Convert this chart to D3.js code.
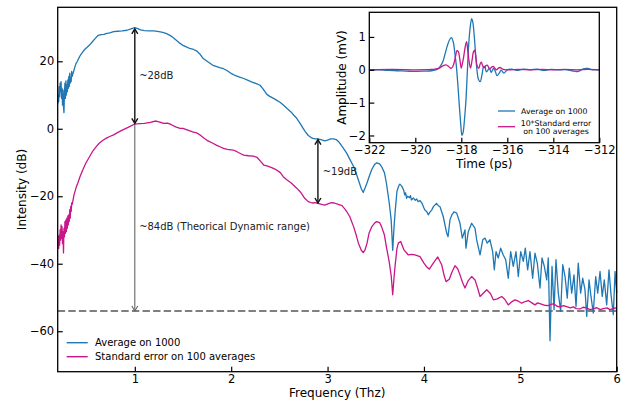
<!DOCTYPE html>
<html>
<head>
<meta charset="utf-8">
<script src="https://cdn.jsdelivr.net/npm/d3@7"></script>
<style>
  body { margin: 0; background: #fff; }
  svg { display: block; font-family: "DejaVu Sans", sans-serif; }
</style>
</head>
<body>
<svg id="chart"></svg>
<script>
/* spectrum: [frequency THz, intensity dB] */
const avgSpectrum = [
    [0.20, 7.5], [0.205, 10.0], [0.21, 8.0], [0.215, 12.5], [0.22, 9.5], [0.225, 13.5], [0.23, 11.0],
    [0.235, 14.0], [0.24, 9.0], [0.245, 12.0], [0.25, 7.0], [0.255, 11.5], [0.26, 6.5], [0.265, 4.8],
    [0.27, 10.5], [0.275, 13.5], [0.28, 9.0], [0.285, 14.2], [0.29, 10.0], [0.295, 13.0], [0.30, 11.0],
    [0.305, 14.5], [0.31, 12.0], [0.315, 15.5], [0.32, 12.5], [0.325, 16.5], [0.33, 13.5], [0.335, 15.0],
    [0.34, 14.0], [0.345, 17.0], [0.35, 15.5], [0.355, 16.0], [0.36, 16.5], [0.37, 17.5], [0.38, 18.5],
    [0.39, 19.3], [0.40, 19.8], [0.42, 21.0], [0.44, 22.0], [0.46, 22.8], [0.48, 23.5], [0.50, 24.0],
    [0.53, 24.8], [0.56, 25.8], [0.59, 26.8], [0.62, 27.7], [0.65, 27.9], [0.68, 28.0], [0.70, 28.2],
    [0.74, 28.4], [0.78, 28.8], [0.82, 28.9], [0.87, 29.0], [0.92, 29.2], [0.96, 29.6], [1.00, 30.0],
    [1.03, 29.7], [1.06, 29.3], [1.10, 29.1], [1.15, 29.0], [1.20, 29.0], [1.25, 28.8], [1.29, 28.6],
    [1.33, 28.2], [1.37, 27.6], [1.40, 27.0], [1.44, 26.0], [1.47, 25.3], [1.50, 24.7], [1.54, 24.2],
    [1.57, 23.8], [1.61, 23.5], [1.64, 23.1], [1.68, 22.0], [1.71, 20.8], [1.75, 20.0], [1.78, 19.4],
    [1.81, 18.8], [1.85, 18.4], [1.88, 18.1], [1.92, 17.8], [1.96, 17.2], [2.00, 16.4], [2.04, 15.8],
    [2.08, 15.4], [2.13, 14.9], [2.17, 14.4], [2.21, 13.9], [2.26, 13.4], [2.30, 12.9], [2.33, 11.8],
    [2.37, 10.2], [2.40, 9.6], [2.44, 9.0], [2.47, 8.5], [2.51, 7.8], [2.55, 6.8], [2.58, 6.0],
    [2.62, 5.0], [2.65, 4.0], [2.68, 3.1], [2.71, 1.8], [2.74, 0.4], [2.77, -0.9], [2.80, -2.0],
    [2.84, -2.8], [2.87, -3.0], [2.90, -3.0], [2.94, -3.3], [2.97, -3.6], [3.00, -3.4], [3.03, -3.0],
    [3.06, -3.0], [3.09, -3.2], [3.12, -4.0], [3.16, -5.6], [3.20, -7.3], [3.23, -9.0], [3.27, -11.2],
    [3.30, -13.5], [3.32, -15.2], [3.35, -17.8], [3.37, -18.9], [3.39, -17.5], [3.41, -16.0],
    [3.44, -13.5], [3.46, -12.0], [3.49, -10.5], [3.51, -10.1], [3.54, -10.4], [3.56, -11.2],
    [3.59, -13.0], [3.61, -16.0], [3.64, -22.0], [3.66, -27.0], [3.676, -36.0], [3.69, -29.0],
    [3.70, -25.0], [3.72, -18.5], [3.74, -16.8], [3.75, -16.4], [3.77, -17.0], [3.79, -18.2],
    [3.80, -19.6], [3.81, -19.0], [3.82, -20.6], [3.83, -20.0], [3.85, -20.4], [3.86, -19.8],
    [3.87, -21.1], [3.89, -20.5], [3.91, -21.2], [3.925, -20.8], [3.94, -21.6], [3.96, -21.3],
    [3.98, -22.1], [4.00, -23.5], [4.01, -24.1], [4.03, -24.6], [4.045, -25.5], [4.06, -24.8],
    [4.08, -24.1], [4.10, -23.0], [4.13, -22.1], [4.15, -22.8], [4.167, -23.1], [4.20, -26.0],
    [4.236, -30.9], [4.25, -32.0], [4.27, -27.0], [4.29, -25.5], [4.312, -24.6], [4.34, -25.0],
    [4.374, -28.0], [4.398, -32.4], [4.426, -30.0], [4.436, -35.4], [4.46, -30.5], [4.495, -28.0],
    [4.53, -29.5], [4.547, -32.9], [4.582, -37.4], [4.61, -32.9], [4.633, -32.4], [4.657, -33.9],
    [4.685, -32.9], [4.713, -36.4], [4.73, -41.8], [4.748, -36.4], [4.771, -38.3], [4.796, -35.4],
    [4.823, -37.4], [4.848, -38.8], [4.875, -44.3], [4.90, -36.4], [4.927, -40.8], [4.955, -36.4],
    [4.979, -43.8], [5.004, -36.4], [5.031, -39.3], [5.052, -35.4], [5.076, -41.8], [5.10, -36.4],
    [5.128, -44.3], [5.152, -36.9], [5.176, -39.8], [5.204, -47.2], [5.225, -38.3], [5.249, -40.8],
    [5.274, -44.8], [5.29, -38.3], [5.308, -62.8], [5.329, -40.8], [5.35, -53.6], [5.37, -38.8],
    [5.394, -48.7], [5.419, -54.1], [5.44, -40.3], [5.464, -43.8], [5.487, -50.2], [5.508, -41.3],
    [5.533, -48.7], [5.557, -43.3], [5.578, -52.7], [5.601, -39.8], [5.626, -48.7], [5.647, -44.3],
    [5.671, -47.7], [5.689, -55.6], [5.713, -44.8], [5.733, -49.7], [5.757, -54.6], [5.782, -43.8],
    [5.803, -48.7], [5.827, -42.3], [5.85, -49.7], [5.871, -44.8], [5.896, -52.2], [5.92, -41.8],
    [5.941, -49.2], [5.965, -55.1], [5.983, -42.3], [6.00, -48.7]
];

const stdSpectrum = [
    [0.20, -34.0], [0.205, -32.0], [0.21, -35.5], [0.215, -31.5], [0.22, -34.5], [0.225, -30.0],
    [0.23, -33.0], [0.235, -28.5], [0.24, -32.5], [0.245, -29.0], [0.25, -34.0], [0.255, -30.5],
    [0.26, -36.8], [0.265, -29.5], [0.27, -32.0], [0.275, -27.5], [0.28, -31.0], [0.285, -27.0],
    [0.29, -30.5], [0.295, -26.5], [0.30, -29.5], [0.305, -25.8], [0.31, -28.5], [0.315, -25.5],
    [0.32, -27.5], [0.325, -24.0], [0.33, -26.5], [0.335, -23.0], [0.34, -24.5], [0.345, -22.0],
    [0.35, -22.5], [0.37, -19.5], [0.39, -17.5], [0.41, -16.0], [0.43, -14.3], [0.46, -12.2],
    [0.49, -10.3], [0.53, -8.3], [0.56, -6.8], [0.60, -5.3], [0.63, -4.3], [0.67, -3.4], [0.71, -2.7],
    [0.74, -2.3], [0.78, -1.8], [0.83, -1.0], [0.87, -0.4], [0.93, 0.4], [1.00, 1.4], [1.05, 1.5],
    [1.10, 1.6], [1.16, 1.9], [1.22, 2.3], [1.26, 2.0], [1.30, 1.6], [1.34, 1.7], [1.38, 1.2],
    [1.43, 0.5], [1.47, 0.1], [1.50, 0.1], [1.55, -0.4], [1.60, -0.9], [1.64, -1.2], [1.68, -1.9],
    [1.72, -2.8], [1.76, -3.6], [1.81, -4.3], [1.85, -4.9], [1.89, -5.4], [1.92, -5.8], [1.96, -6.1],
    [2.02, -6.3], [2.06, -6.8], [2.10, -7.4], [2.13, -7.8], [2.18, -8.0], [2.23, -8.1], [2.27, -8.5],
    [2.31, -9.8], [2.34, -10.8], [2.37, -11.0], [2.42, -11.5], [2.47, -12.2], [2.51, -13.0],
    [2.54, -14.2], [2.58, -15.2], [2.62, -16.0], [2.65, -16.8], [2.68, -17.6], [2.72, -18.8],
    [2.76, -20.5], [2.80, -21.6], [2.84, -22.0], [2.87, -21.9], [2.90, -22.1], [2.94, -22.4],
    [2.97, -22.6], [3.01, -22.2], [3.04, -21.9], [3.07, -22.0], [3.11, -22.4], [3.15, -22.8],
    [3.18, -23.8], [3.20, -24.6], [3.23, -26.0], [3.27, -29.0], [3.30, -31.8], [3.32, -33.9],
    [3.35, -36.0], [3.37, -36.7], [3.39, -35.8], [3.41, -33.9], [3.43, -31.0], [3.46, -29.0],
    [3.49, -27.9], [3.51, -27.5], [3.54, -27.8], [3.56, -29.0], [3.59, -31.5], [3.61, -34.9],
    [3.64, -39.5], [3.66, -43.5], [3.676, -49.2], [3.69, -44.0], [3.70, -40.8], [3.72, -35.5],
    [3.734, -33.9], [3.759, -33.4], [3.793, -35.9], [3.838, -37.4], [3.87, -37.2], [3.907, -37.4],
    [3.959, -37.9], [4.00, -39.8], [4.03, -41.0], [4.056, -41.6], [4.097, -39.8], [4.143, -38.0],
    [4.184, -40.3], [4.21, -43.5], [4.229, -45.3], [4.263, -44.6], [4.29, -42.5], [4.322, -40.6],
    [4.35, -41.5], [4.374, -43.3], [4.40, -45.5], [4.426, -47.2], [4.46, -45.0], [4.495, -43.8],
    [4.53, -44.8], [4.56, -47.5], [4.582, -49.7], [4.62, -48.6], [4.651, -47.7], [4.69, -48.8],
    [4.72, -50.7], [4.76, -50.4], [4.807, -49.7], [4.84, -50.6], [4.875, -52.2], [4.91, -51.3],
    [4.945, -50.7], [4.98, -51.1], [5.014, -51.7], [5.05, -51.2], [5.083, -50.9], [5.12, -51.6],
    [5.152, -52.2], [5.18, -51.6], [5.21, -51.9], [5.25, -52.3], [5.29, -52.4], [5.32, -52.0],
    [5.35, -51.9], [5.38, -52.6], [5.41, -52.8], [5.45, -52.4], [5.48, -52.7], [5.52, -53.1],
    [5.55, -52.8], [5.58, -53.3], [5.62, -53.4], [5.65, -52.9], [5.69, -53.1], [5.72, -53.6],
    [5.76, -53.4], [5.79, -53.0], [5.83, -53.6], [5.86, -53.3], [5.90, -53.1], [5.93, -53.6],
    [5.97, -53.2], [6.00, -53.1]
];

/* time traces of the inset: [time ps, amplitude mV] */
const avgPulse = [
    [-322, -0.01], [-321.6, 0.0], [-321.2, -0.02], [-320.8, -0.03], [-320.4, -0.04], [-320.0, -0.05],
    [-319.6, -0.04], [-319.3, -0.03], [-319.1, 0.0], [-319.0, 0.03], [-318.9, 0.12], [-318.8, 0.25],
    [-318.7, 0.5], [-318.6, 0.75], [-318.5, 0.93], [-318.43, 0.98], [-318.35, 0.85], [-318.28, 0.5],
    [-318.22, 0.15], [-318.15, -0.45], [-318.1, -0.95], [-318.03, -1.6], [-317.97, -2.0],
    [-317.92, -1.9], [-317.86, -1.5], [-317.8, -0.95], [-317.74, -0.1], [-317.68, 0.75],
    [-317.62, 1.25], [-317.55, 1.56], [-317.5, 1.45], [-317.44, 1.05], [-317.38, 0.5], [-317.32, 0.0],
    [-317.26, -0.28], [-317.18, -0.36], [-317.1, -0.15], [-317.03, 0.09], [-316.97, 0.1],
    [-316.92, -0.06], [-316.85, -0.02], [-316.78, 0.05], [-316.7, -0.08], [-316.6, 0.04],
    [-316.52, -0.05], [-316.45, -0.18], [-316.35, -0.1], [-316.27, -0.01], [-316.15, -0.1],
    [-316.0, 0.0], [-315.8, 0.02], [-315.6, -0.02], [-315.3, 0.02], [-315.0, 0.0], [-314.7, 0.02],
    [-314.4, -0.02], [-314.1, 0.01], [-313.8, 0.0], [-313.4, 0.0], [-313.1, -0.04], [-312.9, -0.05],
    [-312.7, 0.03], [-312.5, 0.04], [-312.3, 0.0], [-312, 0.0]
];

const stdPulse = [
    [-322, 0.0], [-321, 0.01], [-320, 0.0], [-319.3, 0.01], [-319.1, 0.03], [-318.93, 0.06],
    [-318.8, 0.12], [-318.67, 0.15], [-318.55, 0.1], [-318.45, 0.04], [-318.37, 0.1], [-318.3, 0.25],
    [-318.24, 0.45], [-318.19, 0.58], [-318.13, 0.55], [-318.07, 0.35], [-318.0, 0.05], [-317.95, 0.2],
    [-317.9, 0.38], [-317.83, 0.7], [-317.77, 0.86], [-317.72, 0.6], [-317.66, 0.25], [-317.6, 0.05],
    [-317.53, 0.3], [-317.47, 0.55], [-317.42, 0.6], [-317.37, 0.4], [-317.32, 0.15], [-317.24, 0.04],
    [-317.18, 0.18], [-317.13, 0.23], [-317.07, 0.12], [-317.01, 0.06], [-316.94, 0.12],
    [-316.87, 0.14], [-316.8, 0.06], [-316.75, 0.03], [-316.68, 0.08], [-316.61, 0.1], [-316.53, 0.04],
    [-316.46, 0.0], [-316.39, 0.05], [-316.32, 0.07], [-316.2, 0.02], [-316.0, 0.0], [-315.5, 0.01],
    [-315, 0.0], [-314.5, 0.01], [-314, 0.0], [-313.5, 0.01], [-313, 0.0], [-312.5, 0.01], [-312, 0.0]
];

const freqTicks = [1, 2, 3, 4, 5, 6];
const dbTicks = [-60, -40, -20, 0, 20];
const timeTicks = [-322, -320, -318, -316, -314, -312];
const ampTicks = [-2, -1, 0, 1];

const noiseFloor = -54;
/* annotation arrows: frequency, from dB, to dB */
const gapArrows = [
    { f: 1.0, from: 29.6, to: 1.6, label: "~28dB", labelF: 1.045, labelDb: 14.8 },
    { f: 2.9, from: -3.2, to: -22.0, label: "~19dB", labelF: 2.95, labelDb: -13.6 }
];
const rangeArrow = { f: 1.0, from: 1.5, to: noiseFloor, label: "~84dB (Theorical Dynamic range)", labelF: 1.045, labelDb: -30 };

const blue = "#1f77b4";
const pink = "#c9168a";

const width = 631;
const height = 404;

const svg = d3.select("#chart")
    .attr("width", width)
    .attr("height", height);

/*main spectrum axes*/
const x = d3.scaleLinear().domain([0.2, 6]).range([57.7, 616.7]);
const y = d3.scaleLinear().domain([-72, 36]).range([371.7, 7.3]);

const main = svg.append("g");

const line = d3.line()
    .x((d) => x(d[0]))
    .y((d) => y(d[1]));

main.append("line")
    .attr("x1", x(0.2)).attr("x2", x(6))
    .attr("y1", y(noiseFloor)).attr("y2", y(noiseFloor))
    .attr("stroke", "#7f7f7f")
    .attr("stroke-width", 2)
    .attr("stroke-dasharray", "7.4,3.2");

main.append("path")
    .datum(avgSpectrum)
    .attr("fill", "none")
    .attr("stroke", blue)
    .attr("stroke-width", 1.3)
    .attr("stroke-linejoin", "round")
    .attr("d", line);

main.append("path")
    .datum(stdSpectrum)
    .attr("fill", "none")
    .attr("stroke", pink)
    .attr("stroke-width", 1.3)
    .attr("stroke-linejoin", "round")
    .attr("d", line);

function arrowHead(g, px, py, dir, color, w) {
    g.append("path")
        .attr("d", `M${px - 3},${py - dir * 5}L${px},${py}L${px + 3},${py - dir * 5}`)
        .attr("fill", "none")
        .attr("stroke", color)
        .attr("stroke-width", w);
}

function arrow(a, color, w, both) {
    const px = x(a.f);
    const y1 = y(a.from);
    const y2 = y(a.to);
    main.append("line")
        .attr("x1", px).attr("x2", px)
        .attr("y1", y1).attr("y2", y2)
        .attr("stroke", color)
        .attr("stroke-width", w);
    arrowHead(main, px, y2, 1, color, w);
    if (both) arrowHead(main, px, y1, -1, color, w);
    main.append("text")
        .attr("x", x(a.labelF))
        .attr("y", y(a.labelDb))
        .attr("font-size", 10)
        .attr("fill", "#222")
        .text(a.label);
}

arrow(rangeArrow, "#666", 1.1, false);
gapArrows.forEach((a) => arrow(a, "#111", 1.4, true));

const xAxis = main.append("g")
    .attr("transform", `translate(0,${y.range()[0]})`)
    .call(d3.axisBottom(x).tickValues(freqTicks).tickSize(-5).tickPadding(3).tickFormat(d3.format("d")));

const yAxis = main.append("g")
    .attr("transform", `translate(${x.range()[0]},0)`)
    .call(d3.axisLeft(y).tickValues(dbTicks).tickSize(-5).tickPadding(3.5));

[xAxis, yAxis].forEach((ax) => {
    ax.select(".domain").remove();
    ax.selectAll("line").attr("stroke", "#000").attr("stroke-width", 1.2);
    ax.selectAll("text").attr("font-size", 11.5).attr("fill", "#000").attr("font-family", "DejaVu Sans");
});

main.append("rect")
    .attr("x", x.range()[0]).attr("y", y.range()[1])
    .attr("width", x.range()[1] - x.range()[0])
    .attr("height", y.range()[0] - y.range()[1])
    .attr("fill", "none")
    .attr("stroke", "#000")
    .attr("stroke-width", 1.3);

main.append("text")
    .attr("x", (x.range()[0] + x.range()[1]) / 2)
    .attr("y", 397)
    .attr("text-anchor", "middle")
    .attr("font-size", 12)
    .text("Frequency (Thz)");

main.append("text")
    .attr("transform", `translate(26,${(y.range()[0] + y.range()[1]) / 2}) rotate(-90)`)
    .attr("text-anchor", "middle")
    .attr("font-size", 12)
    .text("Intensity (dB)");

/*main legend*/
const legend = main.append("g");
[["Average on 1000", blue], ["Standard error on 100 averages", pink]].forEach((d, i) => {
    const ly = 342.7 + i * 14;
    legend.append("line")
        .attr("x1", 66.7).attr("x2", 87.7)
        .attr("y1", ly).attr("y2", ly)
        .attr("stroke", d[1])
        .attr("stroke-width", 1.4);
    legend.append("text")
        .attr("x", 95)
        .attr("y", ly + 3.6)
        .attr("font-size", 10)
        .text(d[0]);
});

/*inset with time traces*/
const xi = d3.scaleLinear().domain([-322, -312]).range([369.3, 599.3]);
const yi = d3.scaleLinear().domain([-2.22, 1.75]).range([142.7, 12.3]);

const inset = svg.append("g");

inset.append("rect")
    .attr("x", xi.range()[0]).attr("y", yi.range()[1])
    .attr("width", xi.range()[1] - xi.range()[0])
    .attr("height", yi.range()[0] - yi.range()[1])
    .attr("fill", "#fff");

const pulseLine = d3.line()
    .x((d) => xi(d[0]))
    .y((d) => yi(d[1]))
    .curve(d3.curveCatmullRom.alpha(0.5));

inset.append("path")
    .datum(avgPulse)
    .attr("fill", "none")
    .attr("stroke", blue)
    .attr("stroke-width", 1.3)
    .attr("d", pulseLine);

inset.append("path")
    .datum(stdPulse)
    .attr("fill", "none")
    .attr("stroke", pink)
    .attr("stroke-width", 1.3)
    .attr("d", pulseLine);

const xiAxis = inset.append("g")
    .attr("transform", `translate(0,${yi.range()[0]})`)
    .call(d3.axisBottom(xi).tickValues(timeTicks).tickSize(-5).tickPadding(3.5).tickFormat(d3.format("d")));

const yiAxis = inset.append("g")
    .attr("transform", `translate(${xi.range()[0]},0)`)
    .call(d3.axisLeft(yi).tickValues(ampTicks).tickSize(-5).tickPadding(3.5).tickFormat(d3.format("d")));

[xiAxis, yiAxis].forEach((ax) => {
    ax.select(".domain").remove();
    ax.selectAll("line").attr("stroke", "#000").attr("stroke-width", 1.2);
    ax.selectAll("text").attr("font-size", 11.5).attr("fill", "#000").attr("font-family", "DejaVu Sans");
});

inset.append("rect")
    .attr("x", xi.range()[0]).attr("y", yi.range()[1])
    .attr("width", xi.range()[1] - xi.range()[0])
    .attr("height", yi.range()[0] - yi.range()[1])
    .attr("fill", "none")
    .attr("stroke", "#000")
    .attr("stroke-width", 1.3);

inset.append("text")
    .attr("x", (xi.range()[0] + xi.range()[1]) / 2)
    .attr("y", 167.5)
    .attr("text-anchor", "middle")
    .attr("font-size", 12)
    .text("Time (ps)");

inset.append("text")
    .attr("transform", `translate(345.5,${(yi.range()[0] + yi.range()[1]) / 2}) rotate(-90)`)
    .attr("text-anchor", "middle")
    .attr("font-size", 12)
    .text("Amplitude (mV)");

const insetLegend = inset.append("g").attr("font-size", 7.8);
insetLegend.append("line")
    .attr("x1", 498).attr("x2", 515).attr("y1", 111).attr("y2", 111)
    .attr("stroke", blue).attr("stroke-width", 1.3);
insetLegend.append("text")
    .attr("x", 521).attr("y", 113.8)
    .text("Average on 1000");
insetLegend.append("line")
    .attr("x1", 498).attr("x2", 515).attr("y1", 126.7).attr("y2", 126.7)
    .attr("stroke", pink).attr("stroke-width", 1.3);
insetLegend.append("text")
    .attr("x", 556).attr("y", 125.5)
    .attr("text-anchor", "middle")
    .text("10*Standard error");
insetLegend.append("text")
    .attr("x", 556).attr("y", 133.8)
    .attr("text-anchor", "middle")
    .text("on 100 averages");
</script>
</body>
</html>
